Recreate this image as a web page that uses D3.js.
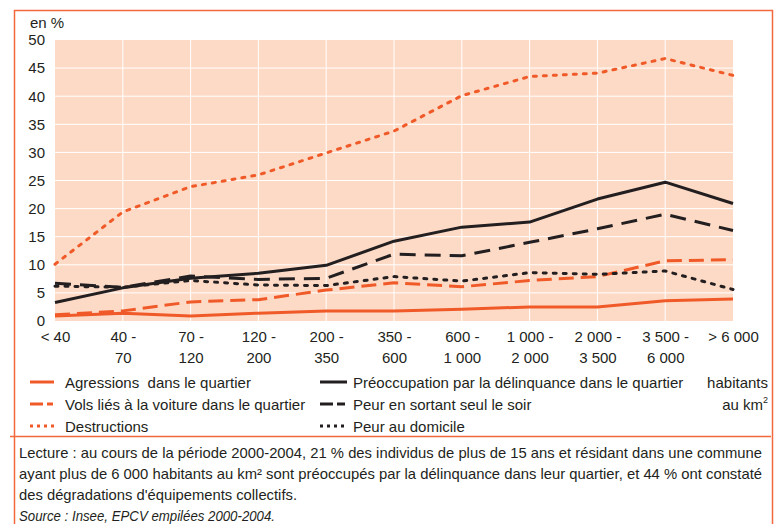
<!DOCTYPE html>
<html>
<head>
<meta charset="utf-8">
<script src="https://cdn.jsdelivr.net/npm/d3@7"></script>
<style>
  body { margin: 0; background: #fff; }
  svg { display: block; font-family: "Liberation Sans", Arial, sans-serif; }
  .tick text { font-size: 15px; fill: #231f20; }
</style>
</head>
<body>
<div id="chart"></div>
<script>
// density classes (habitants au km2), two-line tick labels
var categories = ["< 40", "40 - 70", "70 - 120", "120 - 200", "200 - 350", "350 - 600",
  "600 - 1 000", "1 000 - 2 000", "2 000 - 3 500", "3 500 - 6 000", "> 6 000"];
var labelTop = ["< 40", "40 -", "70 -", "120 -", "200 -", "350 -", "600 -", "1 000 -", "2 000 -", "3 500 -", "> 6 000"];
var labelBottom = ["", "70", "120", "200", "350", "600", "1 000", "2 000", "3 500", "6 000", ""];

// series values in %
var agressions   = [0.9, 1.4, 0.9, 1.4, 1.8, 1.8, 2.1, 2.5, 2.5, 3.6, 3.9];
var volsVoiture  = [1.1, 1.8, 3.4, 3.8, 5.5, 6.8, 6.1, 7.2, 7.9, 10.7, 10.9];
var destructions = [10.1, 19.4, 23.9, 26, 29.9, 33.8, 40.1, 43.5, 44.1, 46.7, 43.7];
var preoccupation = [3.3, 5.9, 7.6, 8.5, 9.9, 14.2, 16.7, 17.6, 21.7, 24.7, 20.9];
var peurSoir     = [6.7, 6.0, 8.0, 7.4, 7.6, 11.9, 11.6, 14.0, 16.4, 19.0, 16.1];
var peurDomicile = [6.2, 6.0, 7.2, 6.4, 6.3, 7.9, 7.1, 8.6, 8.3, 8.9, 5.6];

var yTicks = [0, 5, 10, 15, 20, 25, 30, 35, 40, 45, 50];

var orange = "#f05a28";
var black = "#231f20";

var series = [
  { name: "Agressions  dans le quartier", values: agressions, color: orange, dash: null, legDash: null },
  { name: "Vols liés à la voiture dans le quartier", values: volsVoiture, color: orange, dash: "15,7", legDash: "13,4,6,20" },
  { name: "Destructions", values: destructions, color: orange, dash: "3,7", legDash: "3,4" },
  { name: "Préoccupation par la délinquance dans le quartier", values: preoccupation, color: black, dash: null, legDash: null },
  { name: "Peur en sortant seul le soir", values: peurSoir, color: black, dash: "16,9", legDash: "13,4,8,20" },
  { name: "Peur au domicile", values: peurDomicile, color: black, dash: "3,7", legDash: "3,4" }
];

var svgWidth = 780;
var svgHeight = 524;

var svg = d3.select("#chart")
  .append("svg")
  .attr("width", svgWidth)
  .attr("height", svgHeight);

// frame around chart and note
var frame = svg.append("g")
  .attr("fill", "none")
  .attr("stroke", "#f26a3c")
  .attr("stroke-width", 1.5);
frame.append("path").attr("d", "M14.5,524 V10.5 H772.5 V524");
frame.append("line").attr("x1", 10).attr("x2", 771).attr("y1", 436.5).attr("y2", 436.5);

var x = d3.scalePoint()
  .domain(categories)
  .range([55, 733]);

var y = d3.scaleLinear()
  .domain([0, 50])
  .range([321, 40]);

// plot background
svg.append("rect")
  .attr("x", 55)
  .attr("y", y(50))
  .attr("width", 733 - 55)
  .attr("height", y(0) - y(50))
  .attr("fill", "#fddac6");

// white grid
var grid = svg.append("g").attr("stroke", "#fff").attr("stroke-width", 1);
grid.selectAll(".hg")
  .data(yTicks.filter(d => d > 0 && d < 50))
  .enter().append("line")
  .attr("x1", 55).attr("x2", 733)
  .attr("y1", d => y(d)).attr("y2", d => y(d));
grid.selectAll(".vg")
  .data(categories.slice(1, -1))
  .enter().append("line")
  .attr("x1", d => x(d)).attr("x2", d => x(d))
  .attr("y1", y(50)).attr("y2", y(0));

// y axis
var leftAxis = d3.axisLeft(y).tickValues(yTicks).tickSize(0).tickPadding(0);
var yAxis = svg.append("g")
  .attr("transform", "translate(45,0)")
  .call(leftAxis);
yAxis.select(".domain").remove();
yAxis.selectAll("text").attr("font-size", 15).attr("font-family", null);

svg.append("text")
  .attr("x", 30)
  .attr("y", 28)
  .attr("font-size", 15)
  .attr("fill", black)
  .text("en %");

// x axis with two-line labels
var bottomAxis = d3.axisBottom(x).tickSize(0).tickPadding(0).tickFormat(() => "");
var xAxis = svg.append("g")
  .attr("transform", `translate(0, ${y(0)})`)
  .call(bottomAxis);
xAxis.select(".domain").remove();
xAxis.selectAll(".tick text").each(function(d, i) {
  var t = d3.select(this).attr("y", null).attr("dy", null).attr("font-family", null);
  t.append("tspan").attr("x", 0).attr("y", 21).text(labelTop[i]);
  t.append("tspan").attr("x", 0).attr("y", 42).text(labelBottom[i]);
});

// lines
var line = d3.line()
  .x((d, i) => x(categories[i]))
  .y(d => y(d));

svg.append("g")
  .selectAll("path")
  .data(series)
  .enter().append("path")
  .attr("d", d => line(d.values))
  .attr("fill", "none")
  .attr("stroke", d => d.color)
  .attr("stroke-width", 3)
  .attr("stroke-linejoin", "round")
  .attr("stroke-linecap", d => d.dash === "3,7" ? "round" : "butt")
  .attr("stroke-dasharray", d => d.dash);

// legend
var legend = svg.append("g");
var leg = legend.selectAll("g")
  .data(series)
  .enter().append("g")
  .attr("transform", (d, i) => `translate(${i < 3 ? 30 : 320}, ${382 + (i % 3) * 22})`);

leg.append("line")
  .attr("x1", 0).attr("x2", (d, i) => i < 3 ? 24 : 27)
  .attr("stroke", d => d.color)
  .attr("stroke-width", 3)
  .attr("stroke-dasharray", d => d.legDash);

leg.append("text")
  .attr("x", (d, i) => i < 3 ? 35 : 33)
  .attr("y", 5.5)
  .attr("font-size", 15)
  .attr("fill", black)
  .style("white-space", "pre")
  .text(d => d.name);

svg.append("text")
  .attr("x", 768).attr("y", 388)
  .attr("text-anchor", "end")
  .attr("font-size", 15)
  .attr("fill", black)
  .text("habitants");

var km = svg.append("text")
  .attr("x", 768).attr("y", 410)
  .attr("text-anchor", "end")
  .attr("font-size", 15)
  .attr("fill", black);
km.append("tspan").text("au km");
km.append("tspan").attr("font-size", 9).attr("dy", -7).text("2");

// note
var notes = [
  "Lecture : au cours de la période 2000-2004, 21 % des individus de plus de 15 ans et résidant dans une commune",
  "ayant plus de 6 000 habitants au km² sont préoccupés par la délinquance dans leur quartier, et 44 % ont constaté",
  "des dégradations d'équipements collectifs.",
  "Source : Insee, EPCV empilées 2000-2004."
];
var noteWidths = [743, 743, 278, 256];

svg.append("g")
  .selectAll("text")
  .data(notes)
  .enter().append("text")
  .attr("x", 19)
  .attr("y", (d, i) => 458 + i * 21)
  .attr("font-size", 15)
  .attr("fill", black)
  .attr("font-style", (d, i) => i === 3 ? "italic" : null)
  .attr("textLength", (d, i) => noteWidths[i])
  .attr("lengthAdjust", "spacingAndGlyphs")
  .text(d => d);
</script>
</body>
</html>
